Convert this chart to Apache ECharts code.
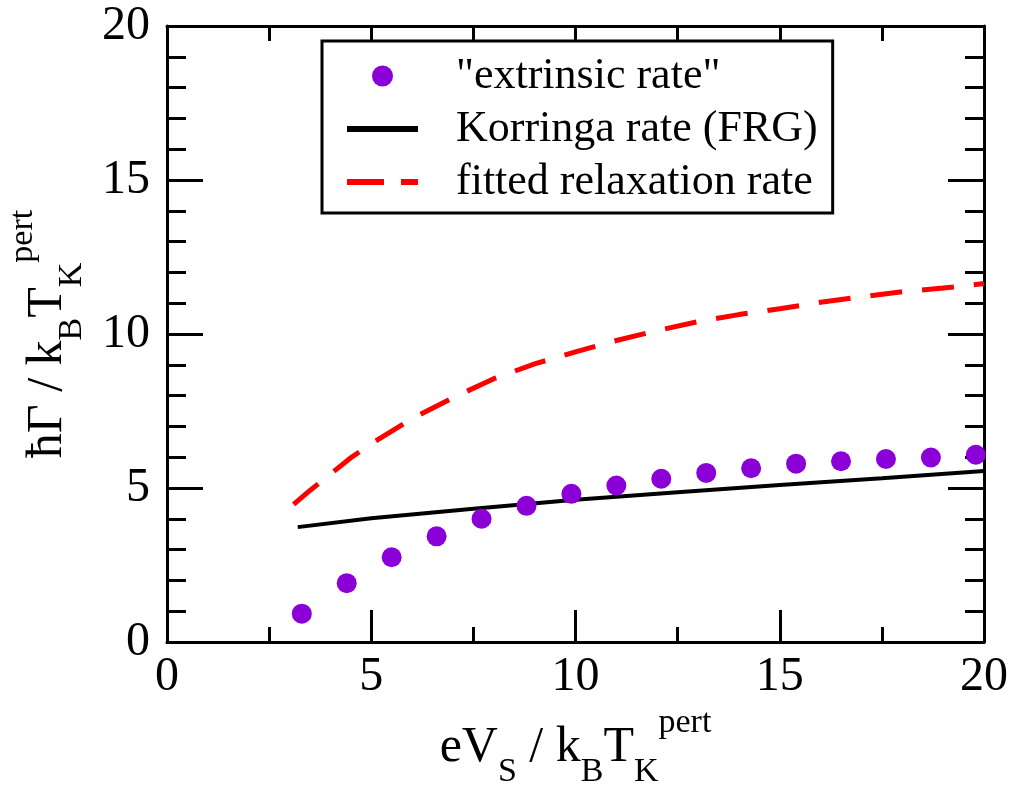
<!DOCTYPE html>
<html>
<head>
<meta charset="utf-8">
<script src="https://cdn.jsdelivr.net/npm/echarts@6/dist/echarts.min.js"></script>
<style>
html,body{margin:0;padding:0;background:#fff;}
#chart{width:1013px;height:785px;}
</style>
</head>
<body>
<div id="chart"></div>
<script>
// ---- data ----
const xTickLabels = ['0', '5', '10', '15', '20'];
const yTickLabels = ['0', '5', '10', '15', '20'];

const extrinsicX = [3.3, 4.4, 5.5, 6.6, 7.7, 8.8, 9.9, 11.0, 12.1, 13.2, 14.3, 15.4, 16.5, 17.6, 18.7, 19.8];
const extrinsicY = [0.92, 1.91, 2.75, 3.43, 4.00, 4.42, 4.81, 5.08, 5.30, 5.49, 5.64, 5.79, 5.87, 5.94, 5.99, 6.08];

const korringaX = [3.2, 5, 7.5, 10, 12.5, 15, 17.5, 20];
const korringaY = [3.73, 4.02, 4.33, 4.62, 4.86, 5.10, 5.32, 5.55];

const fittedX = [3.1, 3.5, 4, 4.5, 5, 6, 7, 8, 9, 10, 11, 12, 13, 14, 15, 16, 17, 18, 19, 20];
const fittedY = [4.47, 4.92, 5.45, 5.98, 6.44, 7.25, 7.93, 8.55, 9.03, 9.42, 9.79, 10.11, 10.40, 10.63, 10.82, 11.03, 11.21, 11.37, 11.49, 11.64];

const seriesNames = ['"extrinsic rate"', 'Korringa rate (FRG)', 'fitted relaxation rate'];

const zip = (xs, ys) => xs.map((x, i) => [x, ys[i]]);

const FONT = '"Liberation Serif", "DejaVu Serif", serif';

const richBase = {
  m: { fontFamily: FONT, fontSize: 50, color: '#000', verticalAlign: 'bottom', padding: [0, 0, 16, 0] },
  s: { fontFamily: FONT, fontSize: 34, color: '#000', verticalAlign: 'bottom', padding: [0, 0, 0, 0] },
  p: { fontFamily: FONT, fontSize: 34, color: '#000', verticalAlign: 'bottom', padding: [0, 0, 49, 0] }
};

function makeX(pos, showLabel) {
  return {
    type: 'value', position: pos, min: 0, max: 20, interval: 5,
    axisLine: { show: true, onZero: false, lineStyle: { color: '#000', width: 3 } },
    axisTick: { show: true, inside: true, length: 32, lineStyle: { color: '#000', width: 3 } },
    minorTick: { show: true, splitNumber: 2, length: 15, lineStyle: { color: '#000', width: 3 } },
    splitLine: { show: false },
    axisLabel: {
      show: showLabel, margin: 11, fontFamily: FONT, fontSize: 48, color: '#000',
      formatter: v => xTickLabels[Math.round(v / 5)] ?? ''
    }
  };
}
function makeY(pos, showLabel) {
  return {
    type: 'value', position: pos, min: 0, max: 20, interval: 5,
    axisLine: { show: true, onZero: false, lineStyle: { color: '#000', width: 3 } },
    axisTick: { show: true, inside: true, length: 36, lineStyle: { color: '#000', width: 3 } },
    minorTick: { show: true, splitNumber: 5, length: 19, lineStyle: { color: '#000', width: 3 } },
    splitLine: { show: false },
    axisLabel: {
      show: showLabel, margin: 17, fontFamily: FONT, fontSize: 48, color: '#000',
      formatter: v => yTickLabels[Math.round(v / 5)] ?? ''
    }
  };
}

const xBottom = makeX('bottom', true);
xBottom.name = '{m|eV}{s|S}{m| / k}{s|B}{m|T}{s|K}{p|pert}';
xBottom.nameLocation = 'middle';
xBottom.nameGap = 60;
xBottom.nameTextStyle = { rich: richBase };

const yLeft = makeY('left', true);
yLeft.name = '{m|ħΓ / k}{s|B}{m|T}{s|K}{p|pert}';
yLeft.nameLocation = 'middle';
yLeft.nameGap = 78;
yLeft.nameTextStyle = { rich: richBase };

const chart = echarts.init(document.getElementById('chart'), null, { renderer: 'canvas' });
chart.setOption({
  backgroundColor: '#fff',
  animation: false,
  grid: { left: 167, right: 29, top: 26, bottom: 143, containLabel: false, outerBoundsMode: 'none' },
  xAxis: [xBottom, makeX('top', false)],
  yAxis: [yLeft, makeY('right', false)],
  legend: {
    left: 322, top: 41, orient: 'vertical',
    padding: [13, 15, 9, 22],
    borderColor: '#000', borderWidth: 3, backgroundColor: '#fff',
    itemWidth: 71, itemHeight: 21, itemGap: 9,
    textStyle: { fontFamily: FONT, fontSize: 44, color: '#000', padding: [0, 0, 0, 33] },
    data: [
      { name: seriesNames[0], icon: 'circle', itemStyle: { color: '#8a00d6', opacity: 1 } },
      { name: seriesNames[1], lineStyle: { width: 6 }, itemStyle: { color: 'rgba(0,0,0,0)', opacity: 0, borderWidth: 0 } },
      { name: seriesNames[2], lineStyle: { width: 6, type: [37, 17] }, itemStyle: { color: 'rgba(0,0,0,0)', opacity: 0, borderWidth: 0 } }
    ]
  },
  series: [
    {
      name: seriesNames[1], type: 'line', xAxisIndex: 0, yAxisIndex: 0,
      data: zip(korringaX, korringaY), showSymbol: false, symbol: 'none',
      lineStyle: { color: '#000', width: 4 }, itemStyle: { color: '#000' }, z: 3
    },
    {
      name: seriesNames[2], type: 'line', xAxisIndex: 0, yAxisIndex: 0,
      data: zip(fittedX, fittedY), showSymbol: false, symbol: 'none', smooth: false,
      lineStyle: { color: '#ff0000', width: 5, type: [32, 20] }, itemStyle: { color: '#ff0000' }, z: 3
    },
    {
      name: seriesNames[0], type: 'scatter', xAxisIndex: 0, yAxisIndex: 0,
      data: zip(extrinsicX, extrinsicY), symbol: 'circle', symbolSize: 20,
      itemStyle: { color: '#8a00d6', opacity: 1 }, z: 4
    }
  ]
});
</script>
</body>
</html>
